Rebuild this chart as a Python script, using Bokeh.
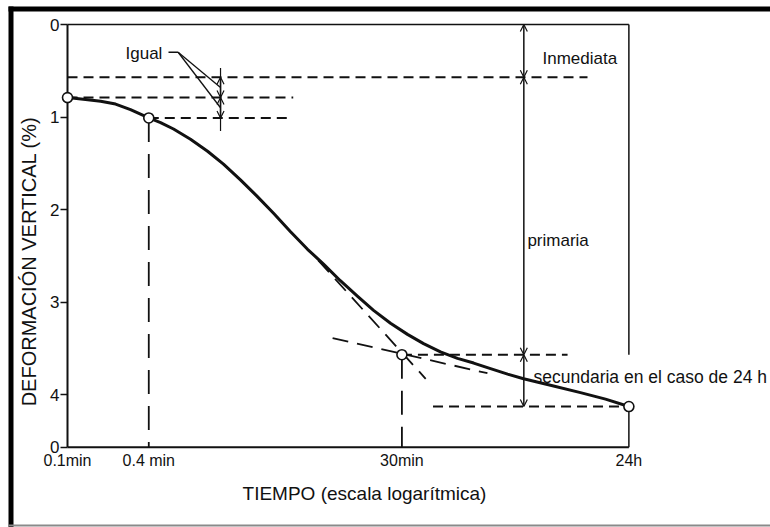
import math

from bokeh.plotting import figure
from bokeh.models import (Range1d, FixedTicker, Label, Arrow, OpenHead,
                          BoxAnnotation, ColumnDataSource)
from bokeh.embed import file_html
from bokeh.resources import INLINE

# ---------------------------------------------------------------------------
# Consolidation curve: time (min, log scale) vs vertical deformation (%)
# ---------------------------------------------------------------------------
t_curve = [0.1, 0.136, 0.176, 0.227, 0.293, 0.4, 0.489, 0.61, 0.815, 1.09,
           1.43, 1.91, 2.51, 3.36, 4.49, 6.0, 7.88, 10.5, 14.1, 18.5,
           24.7, 33.0, 43.4, 57.9, 77.4, 102, 136, 182, 239, 378,
           631, 967, 1440]
d_curve = [0.79, 0.81, 0.83, 0.86, 0.92, 1.01, 1.06, 1.13, 1.24, 1.37,
           1.51, 1.68, 1.85, 2.04, 2.24, 2.43, 2.59, 2.77, 2.94, 3.09,
           3.23, 3.35, 3.45, 3.54, 3.61, 3.66, 3.72, 3.78, 3.83, 3.90,
           3.98, 4.05, 4.13]

# marked readings (open circles)
t_marks = [0.1, 0.4, 30, 1440]
d_marks = [0.79, 1.01, 3.57, 4.13]

# corrected zero: d(0.1) - (d(0.4) - d(0.1))
d_zero = 0.57

# axis ticks
x_ticks = [0.1, 0.4, 30, 1440]
x_tick_labels = ["0.1min", "0.4 min", "30min", "24h"]
y_ticks = [0, 1, 2, 3, 4, 4.57]
y_tick_labels = ["0", "1", "2", "3", "4", "0"]

# tangents whose intersection fixes the end of primary consolidation
tan_steep_t = [7.2, 45]
tan_steep_d = [2.55, 3.83]
tan_sec_t = [9.2, 129]
tan_sec_d = [3.39, 3.77]

# horizontal reference lines: start time, end time, level
ref_t0 = [0.1, 0.1, 0.4, 30, 51]
ref_t1 = [711, 4.7, 4.3, 506, 1440]
ref_d = [d_zero, 0.79, 1.01, 3.57, 4.13]

# vertical drop lines to the time axis
drop_t = [0.4, 30]
drop_d = [1.01, 3.57]

t_dim = 240      # time where the phase brackets sit
t_equal = 1.36   # time of the "Igual" brackets

t_min, t_max = 0.1, 1440
d_base = 4.57    # level of the time axis

# ---------------------------------------------------------------------------
# Layout (pixels) and scales: the frame fills the whole canvas and the axes
# are pinned at the origin, so every note can sit anywhere on the sheet.
# ---------------------------------------------------------------------------
W, H = 770, 527
ORIGIN_X, ZERO_Y = 67, 24
PX_DEC = 135.0     # pixels per decade of time
PX_UNIT = 92.5     # pixels per 1 % deformation


def tx(px):
    """time value at a horizontal pixel position"""
    return t_min * 10 ** ((px - ORIGIN_X) / PX_DEC)


def dy(px):
    """deformation value at a vertical pixel position"""
    return (px - ZERO_Y) / PX_UNIT


p = figure(width=W, height=H, x_axis_type="log",
           x_range=Range1d(tx(0), tx(W)), y_range=Range1d(dy(H), dy(0)),
           min_border=0, toolbar_location=None, output_backend="svg", title=None)

p.grid.visible = False
p.outline_line_color = None
p.background_fill_color = "white"
p.border_fill_color = "white"

FONT = "Liberation Sans"
INK = "#111111"

# y axis pinned at the first reading time
ya = p.yaxis[0]
ya.fixed_location = t_min
ya.ticker = FixedTicker(ticks=y_ticks)
ya.major_label_overrides = {t: s for t, s in zip(y_ticks, y_tick_labels)}
ya.axis_line_color = None
ya.major_tick_in = 0
ya.major_tick_out = 7
ya.major_tick_line_width = 1.5
ya.major_tick_line_color = INK
ya.minor_tick_line_color = None
ya.major_label_standoff = 1
ya.major_label_text_font = FONT
ya.major_label_text_font_size = "17px"
ya.major_label_text_color = INK

# time axis pinned at the base level
xa = p.xaxis[0]
xa.fixed_location = d_base
xa.ticker = FixedTicker(ticks=x_ticks, minor_ticks=[])
xa.major_label_overrides = {t: s for t, s in zip(x_ticks, x_tick_labels)}
xa.axis_line_color = None
xa.major_tick_in = 0
xa.major_tick_out = 0
xa.minor_tick_line_color = None
xa.major_label_standoff = 5
xa.major_label_text_font = FONT
xa.major_label_text_font_size = "16px"
xa.major_label_text_color = INK

# ---------------------------------------------------------------------------
# Frame lines
# ---------------------------------------------------------------------------
p.segment(x0=[t_min, t_min], y0=[0, d_base], x1=[t_min, t_max], y1=[d_base, d_base],
          line_color=INK, line_width=2)
p.segment(x0=[t_min, t_max, t_max], y0=[0, 0, d_marks[3]],
          x1=[t_max, t_max, t_max], y1=[0, d_marks[2], d_base],
          line_color=INK, line_width=1.5)

# ---------------------------------------------------------------------------
# Construction lines
# ---------------------------------------------------------------------------
p.segment(x0=ref_t0, y0=ref_d, x1=ref_t1, y1=ref_d,
          line_color=INK, line_width=2, line_dash="10 6")
p.segment(x0=drop_t, y0=drop_d, x1=drop_t, y1=[d_base, d_base],
          line_color=INK, line_width=1.8, line_dash="24 12")
p.line(tan_steep_t, tan_steep_d, line_color=INK, line_width=1.8, line_dash="16 9")
p.line(tan_sec_t, tan_sec_d, line_color=INK, line_width=1.8, line_dash="16 9")

# consolidation curve and readings
p.line(t_curve, d_curve, line_color=INK, line_width=3, line_join="round")
p.scatter(t_marks, d_marks, size=10, fill_color="white", line_color=INK, line_width=1.6)

# ---------------------------------------------------------------------------
# Double-headed brackets
# ---------------------------------------------------------------------------
def brackets(t, levels):
    n = len(levels) - 1
    src = ColumnDataSource(dict(x0=[t] * n, y0=levels[:-1], x1=[t] * n, y1=levels[1:]))
    p.add_layout(Arrow(x_start="x0", y_start="y0", x_end="x1", y_end="y1", source=src,
                       line_color=INK, line_width=1.5,
                       start=OpenHead(size=7, line_width=1.2, line_color=INK),
                       end=OpenHead(size=7, line_width=1.2, line_color=INK)))


brackets(t_dim, [0, d_zero, d_marks[2], d_marks[3]])
p.segment(x0=[t_equal], y0=[0.47], x1=[t_equal], y1=[1.15], line_color=INK, line_width=1.2)
brackets(t_equal, [d_zero, d_marks[0], d_marks[1]])

# leaders from "Igual" to both brackets
p.segment(x0=[0.56, 0.66, 0.66], y0=[0.30, 0.30, 0.30],
          x1=[0.66, t_equal, t_equal],
          y1=[0.30, (d_zero + d_marks[0]) / 2, (d_marks[0] + d_marks[1]) / 2],
          line_color=INK, line_width=1.3)

# ---------------------------------------------------------------------------
# Text
# ---------------------------------------------------------------------------
def note(text, x, y, size, angle=0.0, align="left", font=FONT):
    p.add_layout(Label(x=x, y=y, text=text, text_font=font, text_font_size=size,
                       text_color=INK, text_align=align, text_baseline="middle",
                       angle=angle))


note("Igual", 0.269, 0.31, "17px")
note("Inmediata", 330, 0.37, "17px")
note("primaria", 255, 2.34, "17px")
note("secundaria en el caso de 24 h", 283, 3.81, "17.5px")
note("TIEMPO (escala logarítmica)", tx(364), dy(493), "19px", align="center")
note("DEFORMACIÓN VERTICAL (%)", tx(28), dy(261), "20px",
     angle=math.pi / 2, align="center")

# page edges of the printed sheet
for l, r, t, b, c in [(8, 13, 6, H, "black"), (8, W, 6, 11, "black"),
                      (8, W, 524, 526, "#8a8a8a")]:
    p.add_layout(BoxAnnotation(left=l, right=r, top=t, bottom=b,
                               left_units="canvas", right_units="canvas",
                               top_units="canvas", bottom_units="canvas",
                               fill_color=c, fill_alpha=1.0, line_color=None,
                               level="overlay"))

open("out.html", "w", encoding="utf-8").write(file_html(p, INLINE))
